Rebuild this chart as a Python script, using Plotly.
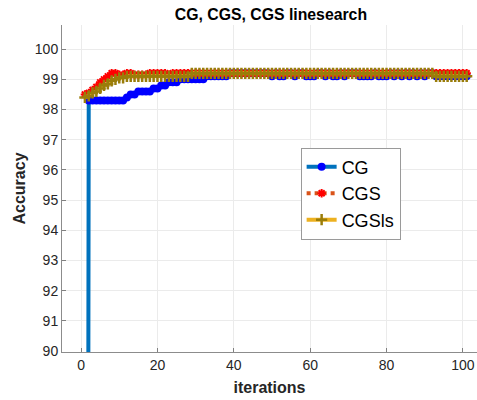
import plotly.graph_objects as go

# Test accuracy (%) per iteration for the three solvers
iterations = list(range(1, 102))

cg_acc = [
    10.0, 98.3, 98.3, 98.3, 98.3, 98.3, 98.3, 98.3, 98.3, 98.3,    # 1-10
    98.3, 98.4, 98.5, 98.5, 98.6, 98.6, 98.6, 98.6, 98.7, 98.7,    # 11-20
    98.8, 98.8, 98.9, 98.9, 98.9, 99.0, 99.0, 99.0, 99.0, 99.0,    # 21-30
    99.0, 99.0, 99.1, 99.1, 99.1, 99.1, 99.1, 99.1, 99.2, 99.2,    # 31-40
    99.2, 99.2, 99.2, 99.2, 99.2, 99.2, 99.2, 99.2, 99.2, 99.1,    # 41-50
    99.2, 99.1, 99.1, 99.2, 99.2, 99.1, 99.2, 99.2, 99.1, 99.1,    # 51-60
    99.1, 99.2, 99.2, 99.1, 99.2, 99.1, 99.1, 99.2, 99.1, 99.2,    # 61-70
    99.2, 99.2, 99.1, 99.1, 99.1, 99.1, 99.2, 99.1, 99.1, 99.1,    # 71-80
    99.2, 99.1, 99.2, 99.1, 99.2, 99.1, 99.2, 99.1, 99.2, 99.1,    # 81-90
    99.2, 99.2, 99.1, 99.1, 99.1, 99.1, 99.1, 99.1, 99.1, 99.1,    # 91-100
    99.1,                                                          # 101
]

cgs_acc = [
    98.5, 98.55, 98.65, 98.75, 98.9, 99.0, 99.1, 99.2, 99.2, 99.15,  # 1-10
    99.15, 99.2, 99.2, 99.15, 99.15, 99.15, 99.15, 99.2, 99.2, 99.2,  # 11-20
    99.2, 99.2, 99.15, 99.2, 99.2, 99.2, 99.2, 99.2, 99.2, 99.2,      # 21-30
    99.2, 99.2, 99.2, 99.2, 99.2, 99.2, 99.2, 99.2, 99.2, 99.2,       # 31-40
    99.2, 99.2, 99.2, 99.2, 99.2, 99.2, 99.2, 99.2, 99.2, 99.2,       # 41-50
    99.2, 99.2, 99.2, 99.2, 99.2, 99.2, 99.2, 99.2, 99.2, 99.2,       # 51-60
    99.2, 99.2, 99.2, 99.2, 99.2, 99.2, 99.2, 99.2, 99.2, 99.2,       # 61-70
    99.2, 99.2, 99.2, 99.2, 99.2, 99.2, 99.2, 99.2, 99.2, 99.2,       # 71-80
    99.2, 99.2, 99.2, 99.2, 99.2, 99.2, 99.2, 99.2, 99.2, 99.2,       # 81-90
    99.2, 99.2, 99.2, 99.2, 99.2, 99.2, 99.2, 99.2, 99.2, 99.2,       # 91-100
    99.2,                                                             # 101
]

cgsls_acc = [
    98.4, 98.45, 98.55, 98.6, 98.7, 98.8, 98.85, 98.95, 99.0, 99.05,  # 1-10
    99.05, 99.1, 99.1, 99.1, 99.1, 99.1, 99.1, 99.1, 99.1, 99.1,      # 11-20
    99.1, 99.1, 99.1, 99.1, 99.1, 99.1, 99.1, 99.1, 99.2, 99.2,       # 21-30
    99.2, 99.2, 99.2, 99.2, 99.2, 99.2, 99.2, 99.2, 99.2, 99.2,       # 31-40
    99.2, 99.2, 99.2, 99.2, 99.2, 99.2, 99.2, 99.2, 99.2, 99.2,       # 41-50
    99.2, 99.2, 99.2, 99.2, 99.2, 99.2, 99.2, 99.2, 99.2, 99.2,       # 51-60
    99.2, 99.2, 99.2, 99.2, 99.2, 99.2, 99.2, 99.2, 99.2, 99.2,       # 61-70
    99.2, 99.2, 99.2, 99.2, 99.2, 99.2, 99.2, 99.2, 99.2, 99.2,       # 71-80
    99.2, 99.2, 99.2, 99.2, 99.2, 99.2, 99.2, 99.2, 99.2, 99.2,       # 81-90
    99.2, 99.2, 99.1, 99.1, 99.1, 99.1, 99.1, 99.1, 99.1, 99.1,       # 91-100
    99.1,                                                             # 101
]

x_ticks = [0, 20, 40, 60, 80, 100]
y_ticks = [90, 91, 92, 93, 94, 95, 96, 97, 98, 99, 100]

FONT = "Liberation Sans, Arial, Helvetica, sans-serif"
TEXT = "#262626"

fig = go.Figure()

fig.add_trace(go.Scatter(
    x=iterations, y=cg_acc, name="CG", mode="lines+markers",
    line=dict(color="#0072BD", width=4),
    marker=dict(symbol="circle", color="#0000FF", size=8, line=dict(width=0)),
))
fig.add_trace(go.Scatter(
    x=iterations, y=cgs_acc, name="CGS", mode="lines+markers",
    line=dict(color="#D95319", width=4, dash="dot"),
    marker=dict(symbol="asterisk-open", color="#FF0000", size=7,
                line=dict(color="#FF0000", width=2)),
))
fig.add_trace(go.Scatter(
    x=iterations, y=cgsls_acc, name="CGSls", mode="lines+markers",
    line=dict(color="#EDB120", width=4),
    marker=dict(symbol="cross-thin-open", color="#9A7D0A", size=8,
                line=dict(color="#9A7D0A", width=2.5)),
))

fig.update_layout(
    width=477, height=400,
    margin=dict(l=62, r=0, t=25, b=48),
    paper_bgcolor="white", plot_bgcolor="white",
    font=dict(family=FONT, size=14, color=TEXT),
    title=dict(text="<b>CG, CGS, CGS linesearch</b>", x=0.568, xanchor="center",
               xref="container", y=0.965, yanchor="middle", yref="container",
               font=dict(family=FONT, size=15.8, color="#000000")),
    showlegend=True,
    legend=dict(x=0.575, y=0.625, xanchor="left", yanchor="top",
                bgcolor="white", bordercolor="#9a9a9a", borderwidth=1,
                font=dict(family=FONT, size=18, color="#000000"),
                itemwidth=30, tracegroupgap=0),
)

fig.update_xaxes(
    range=[-5, 103.7], tickvals=x_ticks, ticks="inside", ticklen=4,
    tickcolor="#808080", showline=True, linecolor="#8c8c8c", linewidth=1,
    showgrid=True, gridcolor="#ebebeb", zeroline=False, mirror=False,
    tickfont=dict(family=FONT, size=14, color=TEXT),
    title=dict(text="<b>iterations</b>", standoff=10,
               font=dict(family=FONT, size=16, color=TEXT)),
)
fig.update_yaxes(
    range=[89.97, 100.8], tickvals=y_ticks, ticks="inside", ticklen=4,
    tickcolor="#808080", showline=True, linecolor="#8c8c8c", linewidth=1,
    showgrid=True, gridcolor="#ebebeb", zeroline=False, mirror=False,
    tickfont=dict(family=FONT, size=14, color=TEXT),
    title=dict(text="<b>Accuracy</b>", standoff=5,
               font=dict(family=FONT, size=16, color=TEXT)),
)

fig.write_html("out.html")
